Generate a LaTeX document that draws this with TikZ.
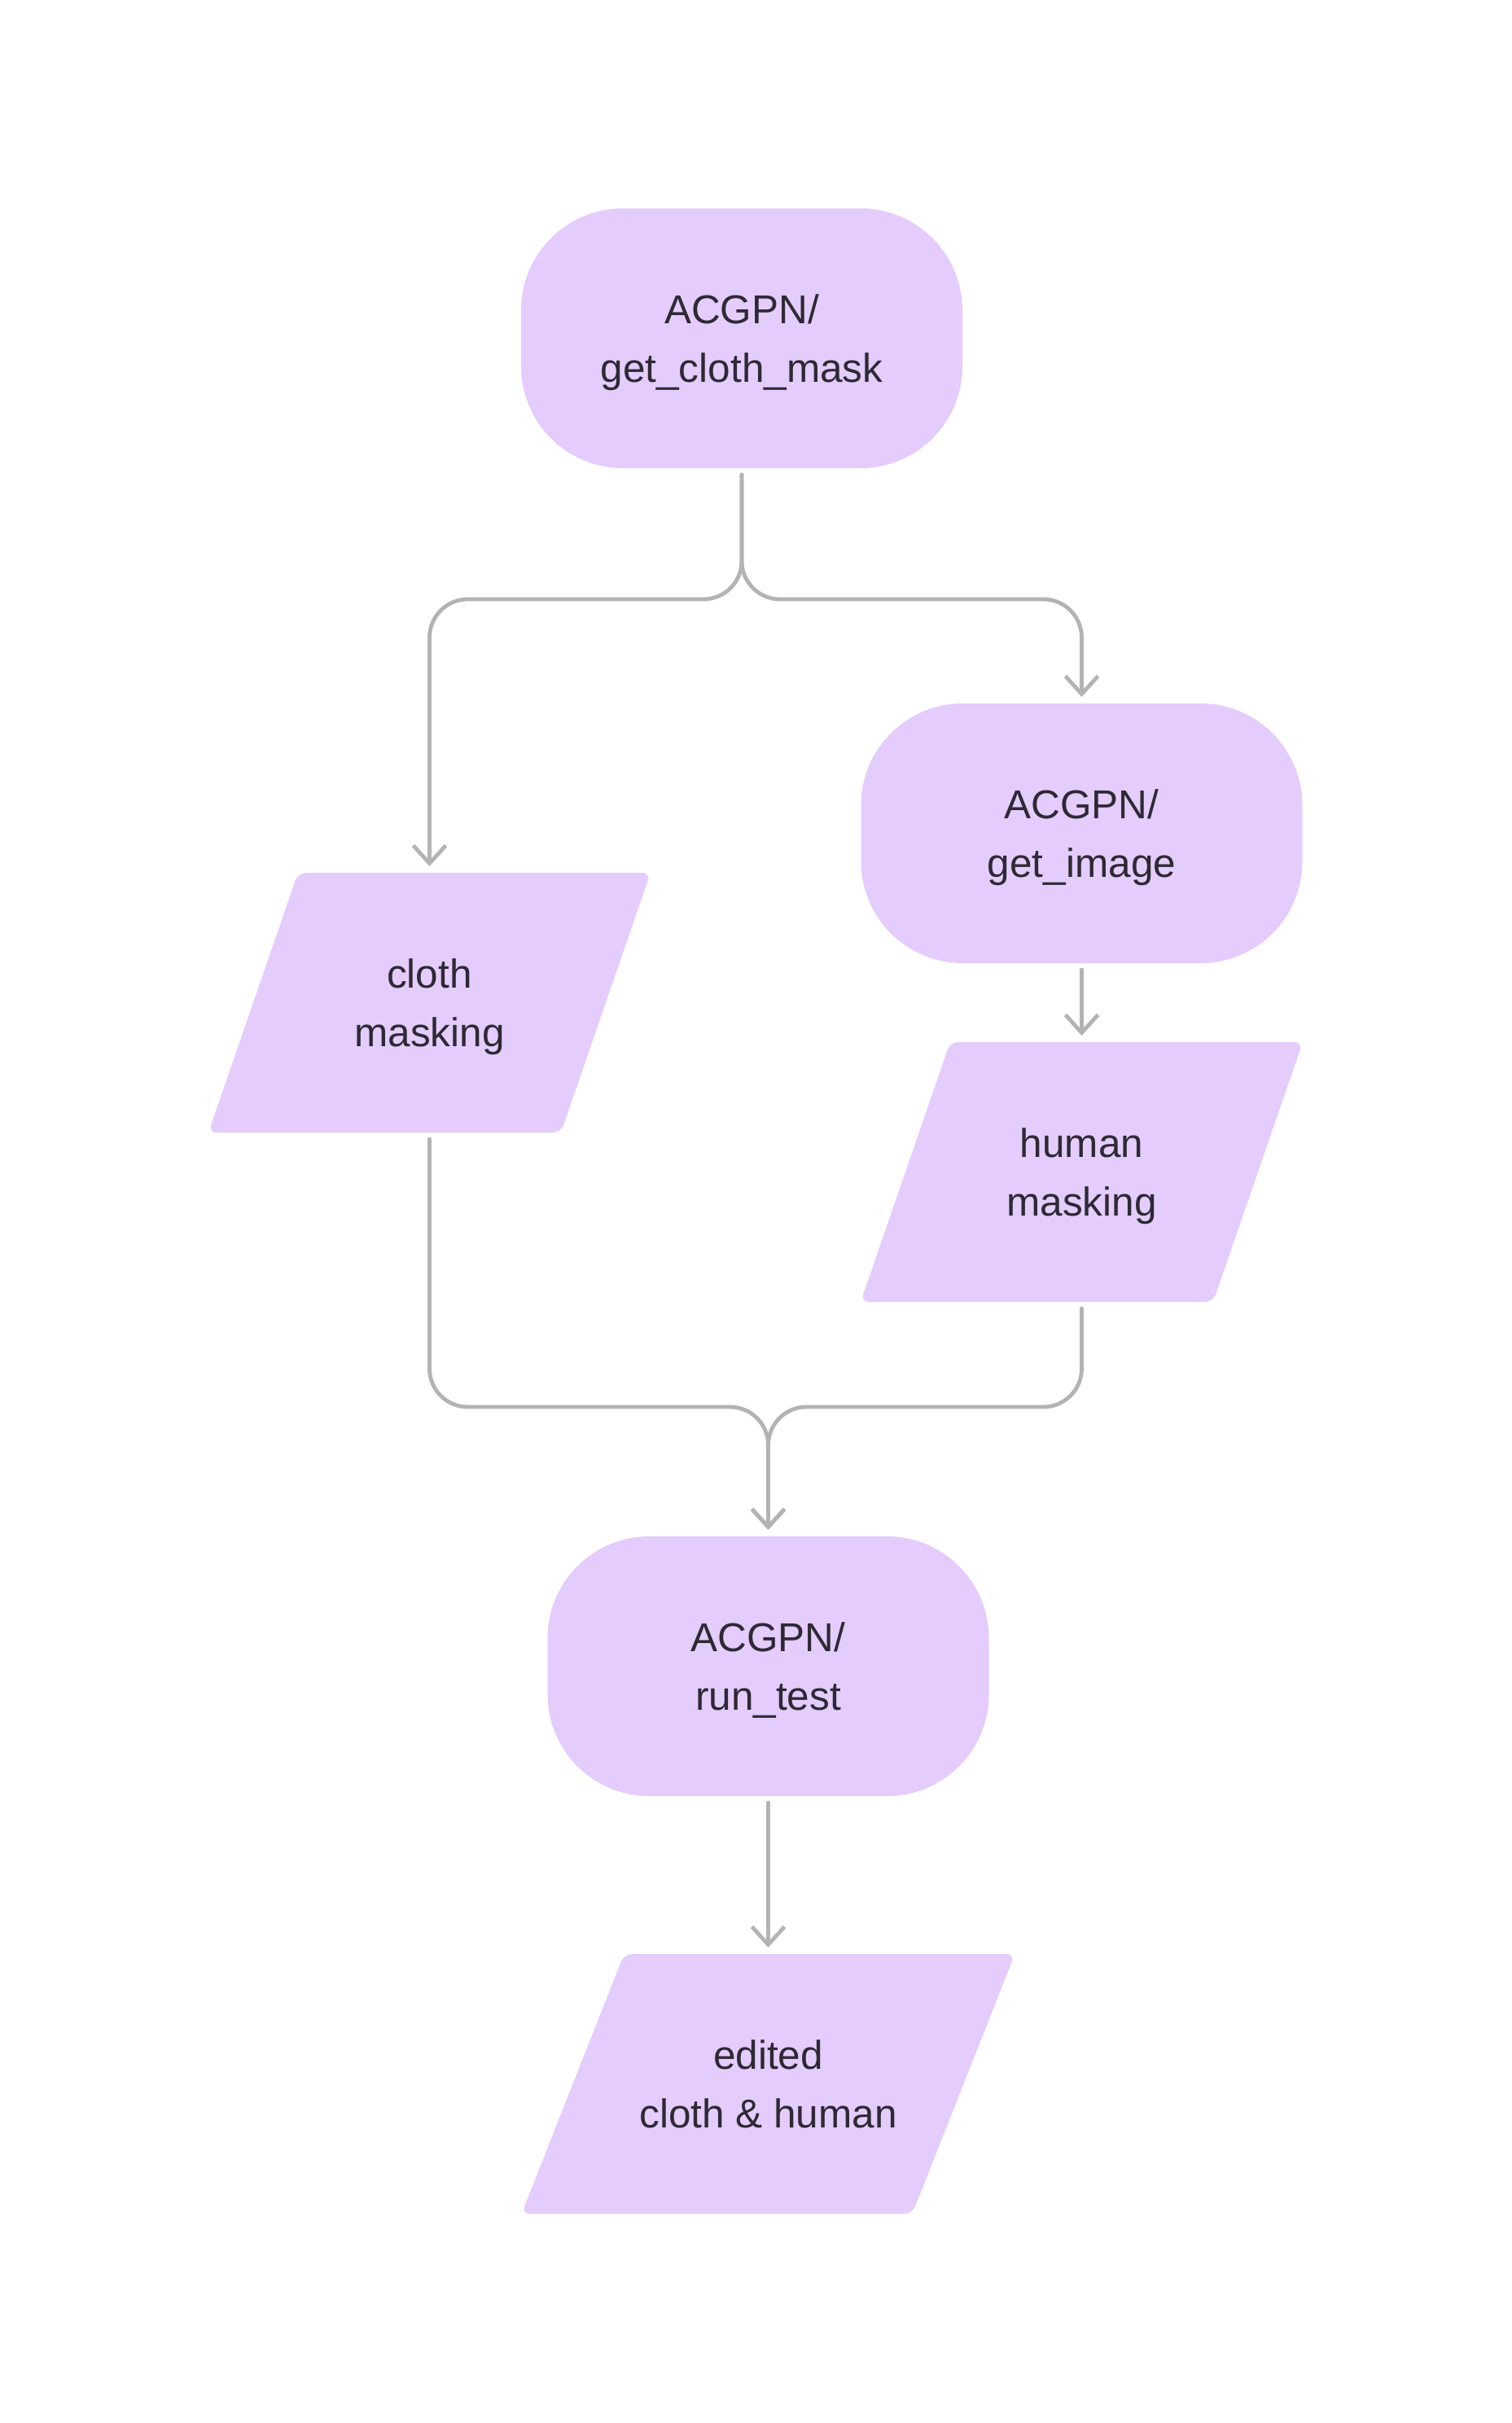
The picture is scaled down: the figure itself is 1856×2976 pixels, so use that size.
\documentclass[tikz,border=0pt]{standalone}
\usepackage{fontspec}
\setmainfont{Liberation Sans}
\usetikzlibrary{arrows.meta}
\definecolor{lilac}{HTML}{E4CCFD}
\definecolor{linkgray}{HTML}{B3B3B3}
\definecolor{inkdark}{HTML}{2E2933}
\begin{document}
\begin{tikzpicture}
[x=1pt,y=-1pt,
  stepdecorate/.style={shape=rectangle,rounded corners=125pt,fill=lilac,
    minimum width=542pt,minimum height=319pt,outer sep=0pt,align=center,
    text depth=0pt,text=inkdark,font=\fontsize{49.5}{72}\selectfont},%
  datadecorate/.style={shape=rectangle,minimum height=319pt,outer sep=0pt,
    align=center,text depth=0pt,text=inkdark,font=\fontsize{49.5}{72}\selectfont,
    path picture={\fill[lilac,rounded corners=10pt]
      ([xshift=#1]path picture bounding box.north west)
      -- (path picture bounding box.north east)
      -- ([xshift=-#1]path picture bounding box.south east)
      -- (path picture bounding box.south west) -- cycle;}},%
  arrowdecorate/.style={-{Straight Barb[length=22pt,width=40pt]},draw=linkgray,
    line width=4.8pt,line cap=round,line join=round,rounded corners=47pt,
    shorten <=8pt,shorten >=8pt}]
\useasboundingbox (0,0) rectangle (1856,2976);
%% process boxes
\foreach \nodename/\x/\y/\label in {getmask/911/415.5/{ACGPN/\\get\_cloth\_mask},
  getimage/1328.5/1023.5/{ACGPN/\\get\_image},
  runtest/943.5/2046.5/{ACGPN/\\run\_test}} {
  \node (\nodename) at (\x,\y) [stepdecorate] {\label};
}
%% data boxes
\foreach \nodename/\x/\y/\w/\skew/\label in {cloth/527.5/1231.5/543/110/{cloth\\masking},
  human/1328.5/1439.5/543/110/{human\\masking},
  edited/943.5/2559.5/606/126/{edited\\cloth \& human}} {
  \node (\nodename) at (\x,\y) [datadecorate=\skew pt,minimum width=\w pt] {\label};
}
%% forks
\coordinate (split) at (911,736);
\coordinate (merge) at (943.5,1728);
%% edges or lines
\draw[arrowdecorate] (getmask.south) -- (split) -| (cloth.north);
\draw[arrowdecorate] (getmask.south) -- (split) -| (getimage.north);
\draw[arrowdecorate] (getimage.south) -- (human.north);
\draw[arrowdecorate] (cloth.south) |- (merge) -- (runtest.north);
\draw[arrowdecorate] (human.south) |- (merge) -- (runtest.north);
\draw[arrowdecorate] (runtest.south) -- (edited.north);
\end{tikzpicture}
\end{document}
